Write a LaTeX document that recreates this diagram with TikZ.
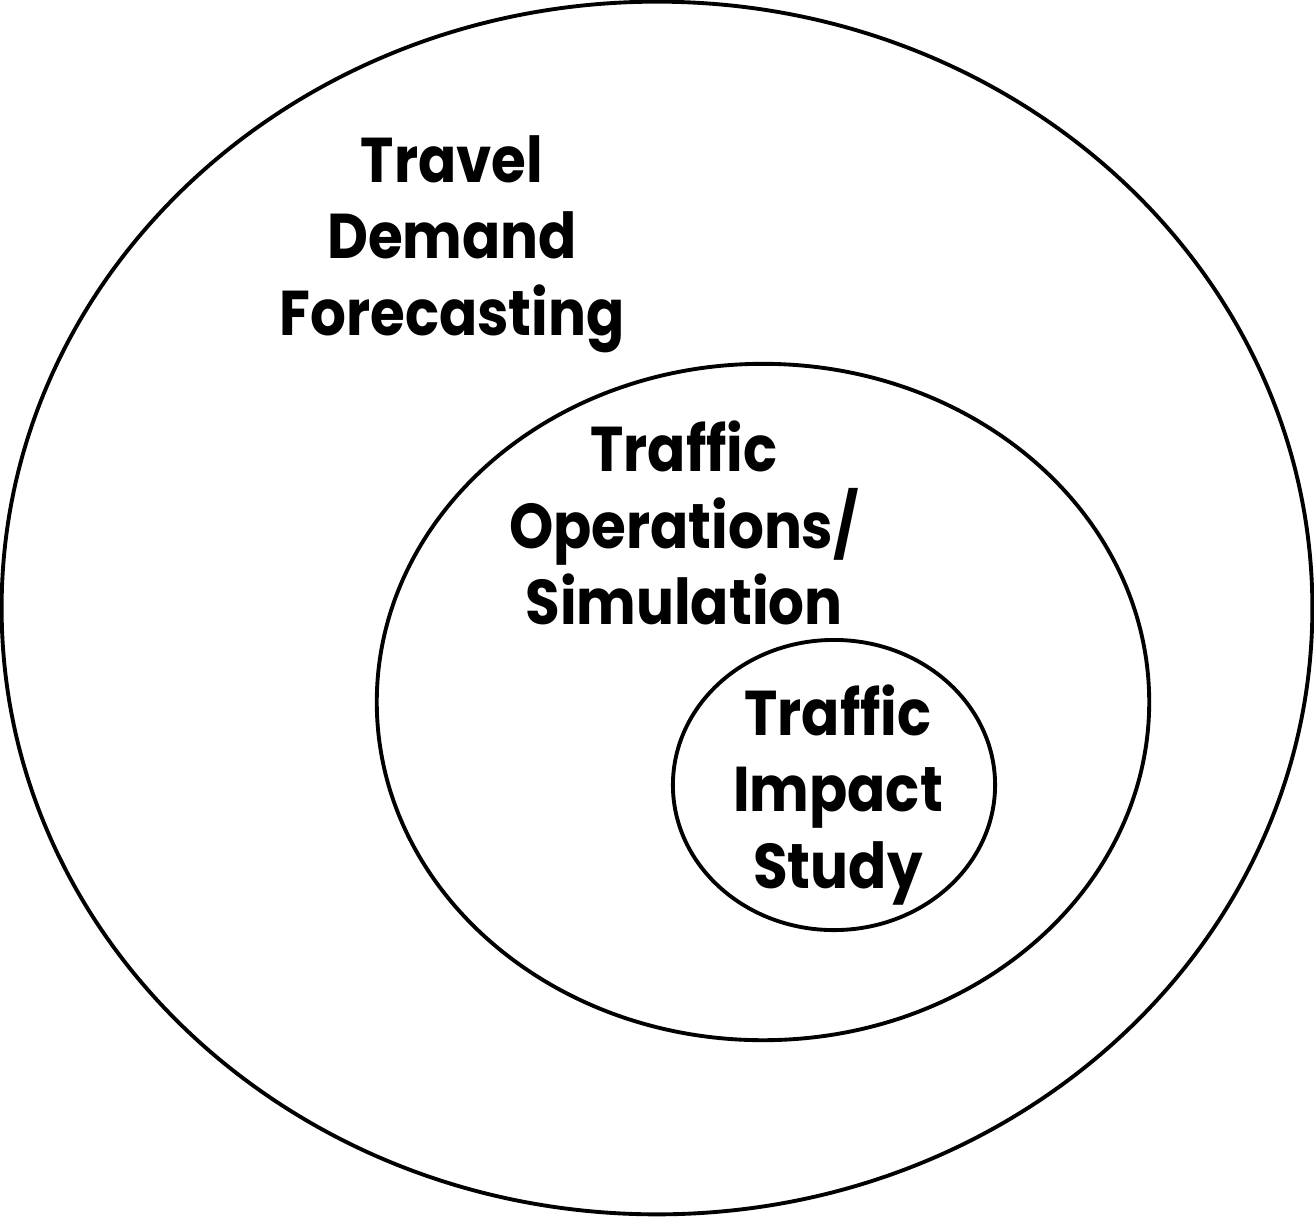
\documentclass[tikz,border=0pt]{standalone}
\usepackage{fontspec}
\setmainfont{Poppins}
\usepackage{tikz}
\usetikzlibrary{shapes.geometric,positioning}

\begin{document}
\begin{tikzpicture}[x=0.01cm, y=-0.01cm,
    ring/.style={draw, ellipse, line width=1.1pt, inner sep=0pt},
    lbl/.style={align=center, font=\bfseries\fontsize{18}{21.8}\selectfont\addfontfeature{FakeStretch=0.89}}]
  % Rahmen in Pixelkoordinaten des Vorbilds
  \useasboundingbox (0,0) rectangle (1314,1217);

  % drei ineinander liegende Bereiche
  \node[ring, minimum width=13.10cm, minimum height=12.12cm] (outer) at (657,608) {};
  \node[ring, minimum width=7.72cm, minimum height=6.76cm] (middle) at (763,702) {};
  \node[ring, minimum width=3.22cm, minimum height=2.90cm] (inner) at (834,785) {};

  % Beschriftungen
  \node[lbl] (tdf) at (452,244) {Travel\\Demand\\Forecasting};
  \node[lbl] (tos) at (684,523) {Traffic\\Operations/\\Simulation};
  \node[lbl] (tis) at (838,795) {Traffic\\Impact\\Study};
\end{tikzpicture}
\end{document}
